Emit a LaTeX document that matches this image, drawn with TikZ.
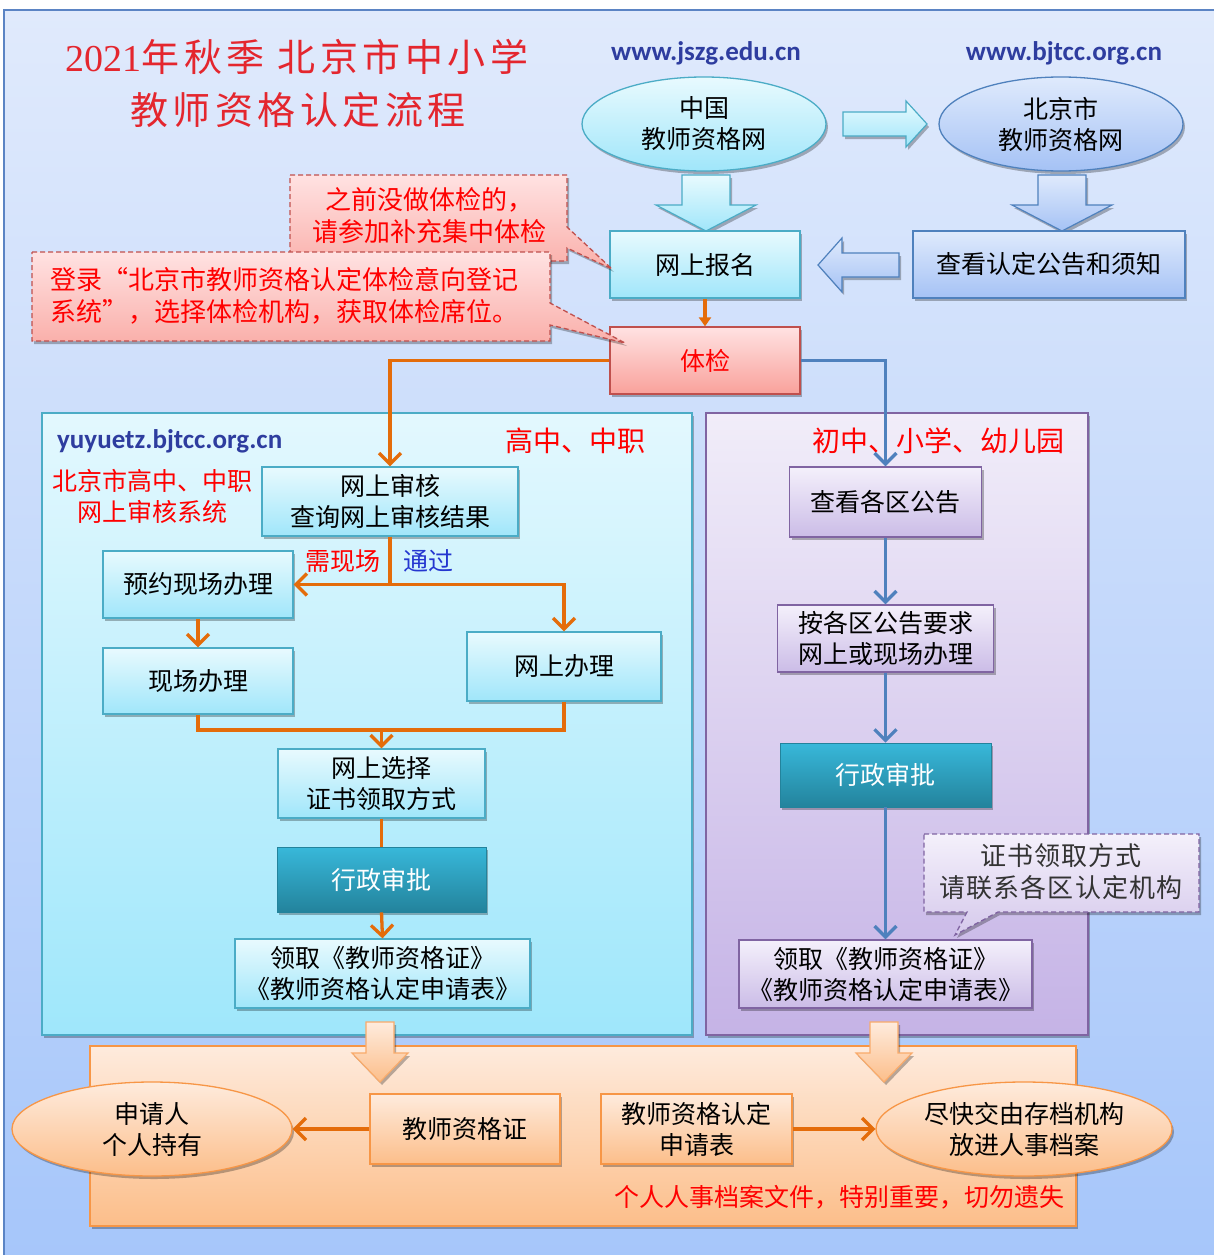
\documentclass[tikz,border=0pt]{standalone}
\usepackage{fontspec}
\setmainfont{Noto Sans CJK SC}
\newfontfamily\titlef{Noto Sans CJK SC}[LetterSpace=12]
\newfontfamily\digitf{Liberation Serif}
\newfontfamily\wideF{Noto Sans CJK SC}[LetterSpace=4]
\newfontfamily\urlf{Carlito}
\usetikzlibrary{shapes.geometric,arrows.meta,shadows}
\newcommand{\myfs}[2]{\fontsize{#1}{#2}\selectfont}
\definecolor{bgT}{HTML}{E0EAFC}
\definecolor{bgB}{HTML}{A6C6FA}
\definecolor{bgD}{HTML}{5B84C4}
\definecolor{cyT}{HTML}{E8FAFE}
\definecolor{cyB}{HTML}{A0E6FA}
\definecolor{cyD}{HTML}{4BACC6}
\definecolor{blT}{HTML}{DFEAFC}
\definecolor{blB}{HTML}{A5C2F5}
\definecolor{blD}{HTML}{4F81BD}
\definecolor{pkT}{HTML}{FFE2E2}
\definecolor{pkB}{HTML}{F9A19B}
\definecolor{pkD}{HTML}{C0504D}
\definecolor{tlT}{HTML}{38B8DA}
\definecolor{tlB}{HTML}{23839C}
\definecolor{lvT}{HTML}{F4F0FB}
\definecolor{lvB}{HTML}{CBBCE7}
\definecolor{lvD}{HTML}{8064A2}
\definecolor{rpT}{HTML}{F1EDF9}
\definecolor{rpB}{HTML}{C5B3E6}
\definecolor{lpT}{HTML}{E3F8FE}
\definecolor{lpB}{HTML}{9FE7FB}
\definecolor{orT}{HTML}{FEEBDD}
\definecolor{orB}{HTML}{FCBE8A}
\definecolor{orD}{HTML}{F79646}
\definecolor{orL}{HTML}{E46C0A}
\definecolor{redX}{HTML}{FF0000}
\definecolor{urlB}{HTML}{2E3D9F}
\definecolor{passB}{HTML}{2436D0}
\definecolor{ttl}{HTML}{E4262E}
\definecolor{grayT}{HTML}{333333}
\begin{document}
\begin{tikzpicture}[x=1pt,y=-1pt,
  shad/.style={drop shadow={shadow xshift=2pt,shadow yshift=-3pt,opacity=0.28,fill=black}},
  box/.style={rectangle, inner sep=0pt, align=center, font=\myfs{25}{31}, line width=1.3pt, text=black, shad},
  cybox/.style={box, draw=cyD, top color=cyT, bottom color=cyB},
  blbox/.style={box, draw=blD, top color=blT, bottom color=blB},
  pkbox/.style={box, draw=pkD, top color=pkT, bottom color=pkB, text=redX},
  tlbox/.style={box, draw=tlB, line width=0.6pt, top color=tlT, bottom color=tlB, text=white},
  lvbox/.style={box, draw=lvD, top color=lvT, bottom color=lvB},
  orbox/.style={box, draw=orD, top color=orT, bottom color=orB},
  ell/.style={ellipse, inner sep=0pt, align=center, font=\myfs{25}{31}, line width=1.3pt, shad},
  cyarrow/.style={draw=cyD, line width=1.2pt, top color=cyT, bottom color=cyB, shad},
  blarrow/.style={draw=blD, line width=1.2pt, top color=blT, bottom color=blB, shad},
  orarrow/.style={draw=orD!80, line width=1.2pt, top color=orT, bottom color=orB, shad},
  oline/.style={draw=orL, line width=3.3pt},
  bline/.style={draw=blD, line width=3.3pt},
  barbtip/.style={-{Straight Barb[length=11pt,width=22pt]}},
  redtext/.style={text=redX, align=center, inner sep=0pt, font=\myfs{25}{31}},
  urltext/.style={text=urlB, inner sep=0pt, font=\urlf\bfseries\myfs{27}{32}},
  titletext/.style={text=ttl, inner sep=0pt, font=\titlef\myfs{38}{44}},
  callpk/.style={draw=pkD, dash pattern=on 5pt off 3pt, line width=1.3pt, top color=pkT, bottom color=pkB!85, shad},
  calllv/.style={draw=lvD, dash pattern=on 5pt off 3pt, line width=1.3pt, top color=lvT, bottom color=lvB!80, shad}
]
\useasboundingbox (0,0) rectangle (1213,1255);
\fill[white] (0,0) rectangle (1213,1255);
\path[draw=bgD, line width=1.5pt, top color=bgT, bottom color=bgB] (4,10) rectangle (1222,1262);

% title
\node[titletext] (t1) at (297,57) {{\digitf 2021}年秋季 北京市中小学};
\node[titletext] (t2) at (298,110) {教师资格认定流程};

% urls
\node[urltext] (u1) at (706,53) {www.jszg.edu.cn};
\node[urltext] (u2) at (1064,53) {www.bjtcc.org.cn};

% panels
\path[draw=cyD, line width=1.5pt, top color=lpT, bottom color=lpB, shad] (42,413) rectangle (692,1035);
\path[draw=lvD, line width=1.5pt, top color=rpT, bottom color=rpB, shad] (706,413) rectangle (1088,1035);
\path[draw=orD, line width=1.5pt, top color=orT, bottom color=orB, shad] (90,1046) rectangle (1076,1226);

% top ellipses
\node[ell, minimum width=244pt, minimum height=94pt, draw=cyD, top color=cyT, bottom color=cyB] (e1) at (704,124) {中国\\教师资格网};
\node[ell, minimum width=244pt, minimum height=94pt, draw=blD, top color=blT, bottom color=blB] (e2) at (1061,124) {北京市\\教师资格网};

% block arrows (top)
\path[cyarrow] (843,112) -- (906,112) -- (906,101) -- (927,124) -- (906,147) -- (906,136) -- (843,136) -- cycle;
\path[cyarrow] (682,175) -- (730,175) -- (730,205) -- (756,205) -- (706,231) -- (656,205) -- (682,205) -- cycle;
\path[blarrow] (1038,175) -- (1086,175) -- (1086,205) -- (1112,205) -- (1062,231) -- (1012,205) -- (1038,205) -- cycle;
\path[blarrow] (899,253) -- (842,253) -- (842,238) -- (818,265) -- (842,292) -- (842,277) -- (899,277) -- cycle;

% top boxes
\node[cybox, minimum width=190pt, minimum height=67pt] (bm) at (705,264.5) {网上报名};
\node[blbox, minimum width=272pt, minimum height=67pt] (gg) at (1049,264.5) {查看认定公告和须知};
\node[pkbox, minimum width=190pt, minimum height=67pt] (tj) at (705,360.5) {体检};
\draw[oline, -{Triangle[length=9pt,width=12pt]}] (bm.south) -- (tj.north);

% callouts
\path[callpk] (290,175) -- (567,175) -- (567,227) -- (612,269) -- (567,248) -- (567,261) -- (290,261) -- cycle;
\node[redtext, font=\myfs{26}{32}] (c1) at (429,216) {之前没做体检的，\\请参加补充集中体检};
\path[callpk] (32,252) -- (550,252) -- (550,303) -- (625,343) -- (550,325) -- (550,341) -- (32,341) -- cycle;
\node[redtext, align=left, anchor=west, font=\myfs{26}{32}] (c2) at (50,296) {登录“北京市教师资格认定体检意向登记\\系统”，选择体检机构，获取体检席位。};

% left panel
\node[urltext, anchor=west] (u3) at (57,441) {yuyuetz.bjtcc.org.cn};
\node[redtext, font=\myfs{28}{32}] (h1) at (575,441) {高中、中职};
\node[redtext] (h2) at (152,496) {北京市高中、中职\\网上审核系统};

\node[cybox, minimum width=256pt, minimum height=69pt] (shenhe) at (390,501.5) {网上审核\\查询网上审核结果};
\node[cybox, minimum width=190pt, minimum height=67pt] (yuyue) at (198,584.5) {预约现场办理};
\node[cybox, minimum width=190pt, minimum height=66pt] (xianchang) at (198,681) {现场办理};
\node[cybox, minimum width=194pt, minimum height=69pt] (wsbl) at (564,666.5) {网上办理};
\node[cybox, minimum width=207pt, minimum height=69pt] (xuanze) at (381.5,783.5) {网上选择\\证书领取方式};
\node[tlbox, minimum width=209pt, minimum height=65pt] (xz1) at (381.5,879.5) {行政审批};
\node[cybox, minimum width=295pt, minimum height=69pt] (lq1) at (382.5,973.5) {领取《教师资格证》\\《教师资格认定申请表》};

\draw[oline, barbtip] (tj.west) -| (shenhe.north);
\coordinate (br) at (shenhe.south |- yuyue.east);
\draw[oline, barbtip] (shenhe.south) |- (yuyue.east);
\draw[oline, barbtip] (br) -| (wsbl.north);
\node[redtext] (xxc) at (343,561) {需现场};
\node[redtext, text=passB] (tg) at (428,561) {通过};
\draw[oline, barbtip] (yuyue.south) -- (xianchang.north);
\coordinate (mg) at (381.5,730);
\draw[oline] (xianchang.south) |- (mg);
\draw[oline] (wsbl.south) |- (mg);
\draw[oline, barbtip] (mg) -- (xuanze.north);
\draw[oline] (xuanze.south) -- (xz1.north);
\draw[oline, barbtip] (xz1.south) -- (lq1.north);

% right panel
\node[redtext, font=\myfs{28}{32}] (h3) at (938,441) {初中、小学、幼儿园};
\node[lvbox, minimum width=192pt, minimum height=70pt] (ckgq) at (885.5,502) {查看各区公告};
\node[lvbox, minimum width=216pt, minimum height=67pt] (anqu) at (885.5,638.5) {按各区公告要求\\网上或现场办理};
\node[tlbox, minimum width=211pt, minimum height=64pt] (xz2) at (885.5,775) {行政审批};
\node[lvbox, minimum width=293pt, minimum height=68pt] (lq2) at (885.5,974) {领取《教师资格证》\\《教师资格认定申请表》};
\draw[bline, barbtip] (tj.east) -| (ckgq.north);
\draw[bline, barbtip] (ckgq.south) -- (anqu.north);
\draw[bline, barbtip] (anqu.south) -- (xz2.north);
\draw[bline, barbtip] (xz2.south) -- (lq2.north);

\path[calllv] (924,834) -- (1199,834) -- (1199,912) -- (998,912) -- (955,935) -- (967,912) -- (924,912) -- cycle;
\node[align=center, inner sep=0pt, text=grayT, font=\wideF\myfs{26}{32}] (c3) at (1061,872) {证书领取方式\\请联系各区认定机构};

% bottom
\path[orarrow] (366,1022) -- (394,1022) -- (394,1053) -- (408,1053) -- (380,1082) -- (352,1053) -- (366,1053) -- cycle;
\path[orarrow] (870,1022) -- (898,1022) -- (898,1053) -- (912,1053) -- (884,1082) -- (856,1053) -- (870,1053) -- cycle;

\node[ell, minimum width=280pt, minimum height=94pt, draw=orD, top color=orT, bottom color=orB] (e3) at (152,1129) {申请人\\个人持有};
\node[orbox, minimum width=190pt, minimum height=70pt] (zs) at (465,1129) {教师资格证};
\node[orbox, minimum width=191pt, minimum height=70pt] (sqb) at (696.5,1129) {教师资格认定\\申请表};
\node[ell, minimum width=296pt, minimum height=94pt, draw=orD, top color=orT, bottom color=orB] (e4) at (1024,1129) {尽快交由存档机构\\放进人事档案};
\draw[oline, barbtip] (zs.west) -- (e3.east);
\draw[oline, barbtip] (sqb.east) -- (e4.west);
\node[redtext, anchor=east] (note) at (1065,1197) {个人人事档案文件，特别重要，切勿遗失};
\end{tikzpicture}
\end{document}
